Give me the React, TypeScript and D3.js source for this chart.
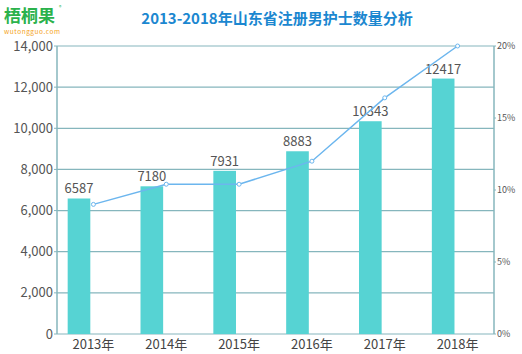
import React from "react";
import * as d3 from "d3";

const years = ["2013年", "2014年", "2015年", "2016年", "2017年", "2018年"];
const nurses = [6587, 7180, 7931, 8883, 10343, 12417];
const rates = [9.0, 10.4, 10.4, 12.0, 16.4, 20.0];
const leftTicks = [0, 2000, 4000, 6000, 8000, 10000, 12000, 14000];
const rightTicks = [0, 5, 10, 15, 20];

const W = 522;
const H = 354;
const margin = { top: 46, right: 28, bottom: 20, left: 57 };
const font = "'Noto Sans CJK SC', 'Noto Sans', sans-serif";

export default function App() {
  const innerW = W - margin.left - margin.right;
  const innerH = H - margin.top - margin.bottom;

  const x = d3.scaleBand<string>().domain(years).range([0, innerW]);
  const sub = d3
    .scaleBand<string>()
    .domain(["count", "rate"])
    .range([0, x.bandwidth()])
    .paddingInner(0.215)
    .paddingOuter(0.37);
  const y = d3.scaleLinear().domain([0, 14000]).range([innerH, 0]);
  const yR = d3.scaleLinear().domain([0, 20]).range([innerH, 0]);

  const cx = (d: string) => (x(d) ?? 0) + x.bandwidth() / 2;
  const line = d3
    .line<number>()
    .x((_, i) => cx(years[i]))
    .y((d) => yR(d));

  const gridColor = "#86b6bd";
  const fmt = d3.format(",");

  return (
    <>
      <style>{"body{margin:0}"}</style>
      <svg width={W} height={H} style={{ display: "block", fontFamily: font }}>
        <rect width={W} height={H} fill="#fff" />
        {/* logo */}
        <text x={4} y={21.5} fontSize={17} fontWeight="bold" fill="#2bb24c">
          梧桐果
        </text>
        <text x={59} y={9} fontSize={5} fill="#2bb24c">
          ®
        </text>
        <text x={4} y={33.5} fontSize={6.5} fill="#f5a31a" textLength={56}>
          wutongguo.com
        </text>
        {/* title */}
        <text
          x={277}
          y={24}
          textAnchor="middle"
          fontSize={15}
          fontWeight="bold"
          fill="#1b87d0"
        >
          2013-2018年山东省注册男护士数量分析
        </text>

        <g transform={`translate(${margin.left},${margin.top})`}>
          {/* grid */}
          {leftTicks.map((t) => (
            <line
              key={t}
              x1={0}
              x2={innerW}
              y1={y(t)}
              y2={y(t)}
              stroke={gridColor}
              strokeWidth={1.2}
            />
          ))}
          {/* left axis */}
          <line x1={0} x2={0} y1={0} y2={innerH} stroke={gridColor} strokeWidth={1.5} />
          {leftTicks.map((t) => (
            <g key={t}>
              <line x1={-3} x2={0} y1={y(t)} y2={y(t)} stroke={gridColor} />
              <text
                x={-4}
                y={y(t)}
                dy="0.35em"
                textAnchor="end"
                fontSize={13}
                fill="#555"
              >
                {fmt(t)}
              </text>
            </g>
          ))}
          {/* right axis */}
          <line x1={innerW} x2={innerW} y1={0} y2={innerH} stroke={gridColor} strokeWidth={1.5} />
          {rightTicks.map((t) => (
            <g key={t}>
              <line x1={innerW} x2={innerW + 2} y1={yR(t)} y2={yR(t)} stroke={gridColor} />
              <text
                x={innerW + 3}
                y={yR(t)}
                dy="0.35em"
                fontSize={9}
                fill="#555"
              >
                {t}%
              </text>
            </g>
          ))}
          {/* bars */}
          {nurses.map((v, i) => {
            const bx = (x(years[i]) ?? 0) + (sub("count") ?? 0);
            return (
              <g key={years[i]}>
                <rect
                  x={bx}
                  y={y(v)}
                  width={sub.bandwidth()}
                  height={innerH - y(v)}
                  fill="#56d3d3"
                />
                <text
                  x={bx + sub.bandwidth() / 2}
                  y={y(v) - 5}
                  textAnchor="middle"
                  fontSize={13}
                  fill="#555"
                >
                  {v}
                </text>
              </g>
            );
          })}
          {/* line */}
          <path d={line(rates) ?? ""} fill="none" stroke="#6cb6ee" strokeWidth={1.5} />
          {rates.map((r, i) => (
            <circle
              key={i}
              cx={cx(years[i])}
              cy={yR(r)}
              r={2}
              fill="#fff"
              stroke="#6cb6ee"
              strokeWidth={1}
            />
          ))}
          {/* x labels */}
          {years.map((yr) => (
            <text
              key={yr}
              x={cx(yr)}
              y={innerH + 15}
              textAnchor="middle"
              fontSize={13}
              fill="#444"
            >
              {yr}
            </text>
          ))}
        </g>
      </svg>
    </>
  );
}
